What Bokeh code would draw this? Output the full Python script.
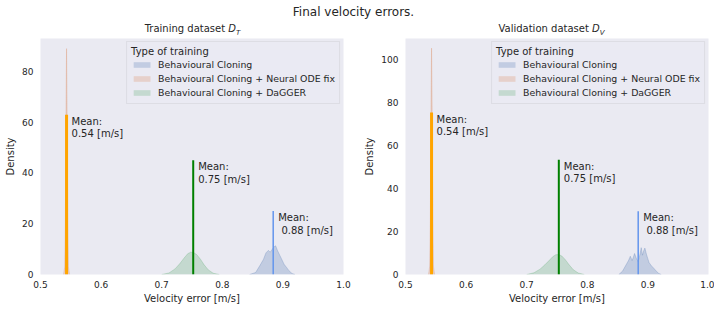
from bokeh.plotting import figure
from bokeh.layouts import column, row
from bokeh.models import Range1d, FixedTicker, Div, Legend, ColumnDataSource, PrintfTickFormatter
from bokeh.core.properties import value
from bokeh.embed import file_html
from bokeh.resources import INLINE

# ---------------- data ----------------
x_ticks = [0.5, 0.6, 0.7, 0.8, 0.9, 1.0]
train_y_ticks = [0, 20, 40, 60, 80]
val_y_ticks = [0, 20, 40, 60, 80, 100]
series_names = ["Behavioural Cloning",
                "Behavioural Cloning + Neural ODE fix",
                "Behavioural Cloning + DaGGER"]

# Training dataset densities
train_bc_x = [0.845, 0.855, 0.862, 0.868, 0.872, 0.876, 0.879, 0.882, 0.885, 0.888,
              0.891, 0.894, 0.898, 0.902, 0.906, 0.910, 0.915, 0.920]
train_bc_y = [0, 0.8, 3.5, 6.0, 8.5, 9.5, 8.8, 9.8, 10.8, 11.3,
              9.5, 8.0, 6.0, 4.0, 2.8, 1.5, 0.4, 0]
train_ode_x = [0.538, 0.540, 0.541, 0.542, 0.543, 0.544, 0.545, 0.546, 0.548]
train_ode_y = [0, 3, 20, 60, 89, 60, 20, 3, 0]
train_dag_x = [0.700, 0.712, 0.722, 0.730, 0.737, 0.743, 0.748, 0.753, 0.758, 0.764,
               0.770, 0.777, 0.785, 0.795]
train_dag_y = [0, 0.6, 2.2, 4.3, 6.5, 8.2, 8.8, 8.6, 7.8, 6.0, 3.8, 1.8, 0.5, 0]

# Validation dataset densities
val_bc_x = [0.852, 0.858, 0.864, 0.868, 0.871, 0.874, 0.876, 0.878, 0.881, 0.884, 0.887,
            0.889, 0.891, 0.893, 0.895, 0.898, 0.902, 0.906, 0.910, 0.914, 0.918, 0.922]
val_bc_y = [0, 1.5, 4.5, 6.5, 8.5, 6.5, 8.0, 9.8, 7.5, 6.0, 9.5,
            12.5, 9.0, 11.0, 12.3, 9.0, 5.5, 4.0, 2.8, 1.5, 0.5, 0]
val_ode_x = [0.538, 0.540, 0.541, 0.542, 0.543, 0.544, 0.545, 0.546, 0.548]
val_ode_y = [0, 4, 25, 75, 105.5, 75, 25, 4, 0]
val_dag_x = [0.700, 0.712, 0.722, 0.730, 0.737, 0.743, 0.748, 0.753, 0.758, 0.764,
             0.770, 0.777, 0.785, 0.795]
val_dag_y = [0, 0.8, 2.5, 4.5, 6.5, 8.3, 9.2, 9.3, 8.6, 6.8, 4.5, 2.2, 0.7, 0]

# Mean markers (BC, ODE fix, DaGGER)
train_means = [0.884, 0.543, 0.752]
train_mean_tops = [25, 63, 45]
val_means = [0.884, 0.543, 0.753]
val_mean_tops = [29.5, 75.5, 53.5]
mean_labels = ["Mean:\n\u00a00.88 [m/s]", "Mean:\n0.54 [m/s]", "Mean:\n0.75 [m/s]"]

# ---------------- style ----------------
FONT = "DejaVu Sans"
BG = "#EAEAF2"
fill_colors = ["#4C72B0", "#DD8452", "#55A868"]
mean_colors = ["#6495ED", "#FFA500", "#008000"]
mean_widths = [1.5, 3, 2]
TXT = "#262626"


def make_panel(ymax, yticks, dens, means, tops, left_border, right_border):
    p = figure(frame_width=303, frame_height=236, output_backend="svg",
               toolbar_location=None, x_range=Range1d(0.5, 1.0), y_range=Range1d(0, ymax),
               min_border_left=left_border, min_border_right=right_border,
               min_border_top=4, min_border_bottom=20)
    p.background_fill_color = BG
    p.border_fill_color = "white"
    p.outline_line_color = None
    p.grid.visible = False

    for ax in (p.xaxis[0], p.yaxis[0]):
        ax.axis_line_color = None
        ax.major_tick_line_color = None
        ax.minor_tick_line_color = None
        ax.major_tick_out = 0
        ax.major_tick_in = 0
        ax.minor_tick_out = 0
        ax.minor_tick_in = 0
        ax.major_label_text_font = FONT
        ax.major_label_text_font_size = "9px"
        ax.major_label_text_color = TXT
        ax.axis_label_text_font = FONT
        ax.axis_label_text_font_size = "10px"
        ax.axis_label_text_font_style = "normal"
        ax.axis_label_text_color = TXT
    p.xaxis.ticker = FixedTicker(ticks=x_ticks)
    p.xaxis.formatter = PrintfTickFormatter(format="%.1f")
    p.yaxis.ticker = FixedTicker(ticks=yticks)
    p.xaxis.axis_label = "Velocity error [m/s]"
    p.yaxis.axis_label = "Density"
    p.xaxis.major_label_standoff = 6
    p.yaxis.major_label_standoff = 7
    p.xaxis.axis_label_standoff = 2
    p.yaxis.axis_label_standoff = 3

    items = []
    for (xs, ys), name, c in zip(dens, series_names, fill_colors):
        r = p.varea(x=xs, y1=[0] * len(xs), y2=ys, fill_color=c, fill_alpha=0.25)
        p.line(x=xs, y=ys, line_color=c, line_alpha=0.25, line_width=1)
        items.append((name, [r]))

    for m, t, c, w in zip(means, tops, mean_colors, mean_widths):
        p.segment(x0=[m], y0=[0], x1=[m], y1=[t], line_color=c, line_width=w)

    src = ColumnDataSource(dict(x=means, y=tops, t=mean_labels))
    p.text(x="x", y="y", text="t", source=src, x_offset=5, y_offset=1,
           text_baseline="top", text_align="left", text_font=value(FONT),
           text_font_size="10px", text_color=TXT, text_line_height=1.15)

    leg = Legend(items=items, location="top_right", title="Type of training")
    leg.title_text_font = FONT
    leg.title_text_font_size = "10px"
    leg.title_text_font_style = "normal"
    leg.title_text_color = TXT
    leg.title_standoff = 0
    leg.label_text_font = FONT
    leg.label_text_font_size = "9.4px"
    leg.label_text_color = TXT
    leg.glyph_width = 21
    leg.glyph_height = 7
    leg.label_height = 14
    leg.label_standoff = 6
    leg.spacing = 0
    leg.padding = 4
    leg.margin = 3
    leg.background_fill_color = BG
    leg.background_fill_alpha = 0.8
    leg.border_line_color = "#cfcfd6"
    leg.border_line_width = 1
    p.add_layout(leg)
    return p


p1 = make_panel(93, train_y_ticks,
                [(train_bc_x, train_bc_y), (train_ode_x, train_ode_y), (train_dag_x, train_dag_y)],
                train_means, train_mean_tops, 40, 18)
p2 = make_panel(110, val_y_ticks,
                [(val_bc_x, val_bc_y), (val_ode_x, val_ode_y), (val_dag_x, val_dag_y)],
                val_means, val_mean_tops, 39, 6)

sup = Div(width=707, height=20, margin=0, text=(
    '<div style="position:relative;top:4px;width:707px;height:12px;line-height:12px;'
    'text-align:center;font-family:\'DejaVu Sans\';font-size:12px;color:#262626;">'
    'Final velocity errors.</div>'))

titles = Div(width=707, height=14, margin=0, text=(
    '<div style="position:relative;top:2px;width:707px;height:14px;line-height:14px;'
    'font-family:\'DejaVu Sans\';font-size:10px;color:#262626;">'
    '<span style="position:absolute;left:41px;width:303px;text-align:center;">'
    'Training dataset <i>D</i><sub style="font-size:7px;font-style:italic;line-height:0;">T</sub></span>'
    '<span style="position:absolute;left:400px;width:303px;text-align:center;">'
    'Validation dataset <i>D</i><sub style="font-size:7px;font-style:italic;line-height:0;">V</sub></span>'
    '</div>'))

layout = column(sup, titles, row(p1, p2), spacing=0)

open("out.html", "w").write(file_html(layout, INLINE))
